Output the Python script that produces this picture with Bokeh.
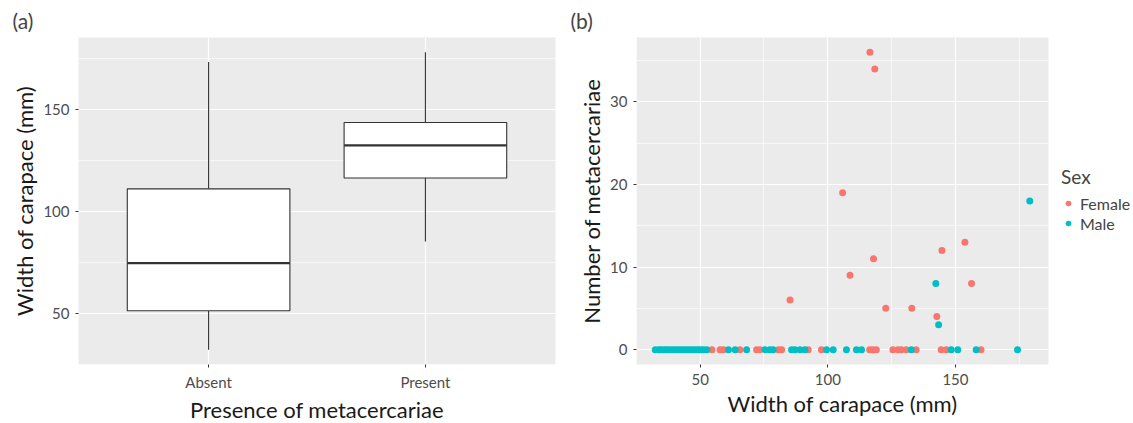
from bokeh.plotting import figure
from bokeh.layouts import row
from bokeh.models import (Range1d, FixedTicker, Legend, LegendItem, ColumnDataSource,
                          CDSView, IndexFilter)
from bokeh.embed import file_html
from bokeh.resources import INLINE

# ---------------- data ----------------
# Panel (a): boxplot statistics of carapace width (mm)
categories = ["Absent", "Present"]
whisker_low = [32.5, 85.4]
q1 = [51.5, 116.5]
median = [74.8, 132.5]
q3 = [111.2, 143.7]
whisker_high = [173.3, 178.0]

# Panel (b): carapace width vs number of metacercariae
female_x = [54.6, 57.8, 59.1, 65.6, 72.1, 73.4, 80.6, 81.9, 92.3, 97.5,
            116.4, 117.7, 119.0, 125.5, 127.5, 128.8, 130.7, 134.6, 144.4, 146.4, 160.0,
            116.5, 118.4, 105.8, 153.7, 144.7, 117.9, 108.7, 156.3, 85.2, 122.7, 132.9, 142.7]
female_y = [0, 0, 0, 0, 0, 0, 0, 0, 0, 0,
            0, 0, 0, 0, 0, 0, 0, 0, 0, 0, 0,
            36, 34, 19, 13, 12, 11, 9, 8, 6, 5, 5, 4]
male_x = [32.4, 33.7, 34.6, 35.7, 36.6, 37.6, 38.6, 39.6, 40.5, 41.5, 42.5, 43.5, 44.4,
          45.4, 46.4, 47.4, 48.3, 49.3, 50.3, 51.3, 52.6, 61.1, 63.7, 68.2, 75.4, 77.3,
          78.6, 85.8, 87.1, 89.1, 91.0, 99.5, 102.1, 107.3, 111.2, 113.2, 132.7, 148.3,
          150.9, 158.1, 174.3, 179.1, 142.3, 143.4]
male_y = [0] * 41 + [18, 8, 3]
sex_labels = ["Female", "Male"]

FONT = "Lato"
PANEL_BG = "#EBEBEB"
TICK_COL = "#4D4D4D"
FH = 327


def style(p):
    p.background_fill_color = PANEL_BG
    p.border_fill_color = "white"
    p.outline_line_color = None
    for ax in (p.xaxis, p.yaxis):
        ax.axis_line_color = None
        ax.major_tick_line_color = "#333333"
        ax.major_tick_out = 3
        ax.major_tick_in = 0
        ax.minor_tick_line_color = None
        ax.major_label_text_font = FONT
        ax.major_label_text_font_size = "15px"
        ax.major_label_text_color = TICK_COL
        ax.axis_label_text_font = FONT
        ax.axis_label_text_font_size = "22px"
        ax.axis_label_text_font_style = "normal"
        ax.axis_label_text_color = "#1a1a1a"
        ax.major_label_standoff = 5
        ax.axis_label_standoff = 2
    for g in (p.xgrid, p.ygrid):
        g.grid_line_color = "white"
        g.grid_line_width = 1.2
        g.minor_grid_line_color = "white"
        g.minor_grid_line_width = 0.6
    p.title.text_font = FONT
    p.title.text_font_size = "21px"
    p.title.text_font_style = "normal"
    p.title.align = "left"


# ---------------- panel (a) ----------------
pos = [i + 1 for i in range(len(categories))]
lo_a = min(whisker_low)
hi_a = max(whisker_high)
pad_a = 0.05 * (hi_a - lo_a)

pa = figure(frame_width=477, frame_height=FH, output_backend="svg", toolbar_location=None,
            x_range=Range1d(0.4, 2.6), y_range=Range1d(lo_a - pad_a, hi_a + pad_a),
            title="(a)", min_border_left=78, min_border_right=10,
            min_border_top=29, min_border_bottom=40)
style(pa)
pa.title.offset = -66
pa.xaxis.ticker = FixedTicker(ticks=pos)
pa.xaxis.major_label_overrides = {p_: c for p_, c in zip(pos, categories)}
pa.yaxis.ticker = FixedTicker(ticks=[50, 100, 150], minor_ticks=[25, 75, 125, 175])
pa.xgrid.minor_grid_line_color = None
pa.xaxis.axis_label = "Presence of metacercariae"
pa.yaxis.axis_label = "Width of carapace (mm)"

src_a = ColumnDataSource(dict(x=pos, lo=whisker_low, q1=q1, med=median, q3=q3, hi=whisker_high))
pa.segment(x0="x", x1="x", y0="q3", y1="hi", source=src_a, line_color="#333333", line_width=1.1)
pa.segment(x0="x", x1="x", y0="lo", y1="q1", source=src_a, line_color="#333333", line_width=1.1)
pa.vbar(x="x", width=0.75, bottom="q1", top="q3", source=src_a,
        fill_color="white", line_color="#333333", line_width=1.1)
xl = [p_ - 0.375 for p_ in pos]
xr = [p_ + 0.375 for p_ in pos]
pa.segment(x0=xl, x1=xr, y0=median, y1=median, line_color="#333333", line_width=2.2)

# ---------------- panel (b) ----------------
allx = female_x + male_x
ally = female_y + male_y
sx = max(allx) - min(allx)
sy = max(ally) - min(ally)

pb = figure(frame_width=412, frame_height=FH, output_backend="svg", toolbar_location=None,
            x_range=Range1d(min(allx) - 0.05 * sx, max(allx) + 0.05 * sx),
            y_range=Range1d(min(ally) - 0.05 * sy, max(ally) + 0.05 * sy),
            title="(b)", min_border_left=71, min_border_right=77,
            min_border_top=29, min_border_bottom=40)
style(pb)
pb.title.offset = -66
pb.xaxis.ticker = FixedTicker(ticks=[50, 100, 150], minor_ticks=[25, 75, 125, 175])
pb.yaxis.ticker = FixedTicker(ticks=[0, 10, 20, 30], minor_ticks=[5, 15, 25, 35])
pb.xaxis.axis_label = "Width of carapace (mm)"
pb.yaxis.axis_label = "Number of metacercariae"

src_f = ColumnDataSource(dict(x=female_x, y=female_y))
src_m = ColumnDataSource(dict(x=male_x, y=male_y))
# legend key background only (filtered out of the plot area itself)
key_bg = pb.quad(left="x", right="x", bottom="y", top="y", source=src_f,
                 view=CDSView(filter=IndexFilter(indices=[])),
                 fill_color="#F0F0F0", line_color=None)
rf = pb.scatter("x", "y", source=src_f, size=7, fill_color="#F8766D", line_color=None)
rm = pb.scatter("x", "y", source=src_m, size=7, fill_color="#00BFC4", line_color=None)

legend = Legend(items=[LegendItem(label=sex_labels[0], renderers=[key_bg, rf]),
                       LegendItem(label=sex_labels[1], renderers=[key_bg, rm])],
                title="Sex", location=(13, 131), border_line_color=None,
                background_fill_alpha=0, padding=0, margin=0, spacing=0,
                glyph_width=14, glyph_height=20, label_standoff=5,
                label_text_font=FONT, label_text_font_size="16px",
                title_text_font=FONT, title_text_font_size="19px",
                title_text_font_style="normal", title_standoff=5)
pb.add_layout(legend, "right")

layout = row(pa, pb)
open("out.html", "w").write(file_html(layout, INLINE))
